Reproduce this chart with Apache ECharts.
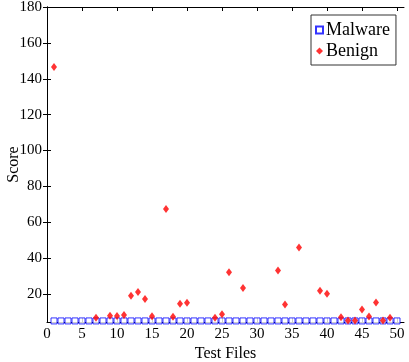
<!DOCTYPE html>
<html>
<head>
<meta charset="utf-8">
<script src="https://cdn.jsdelivr.net/npm/echarts@6/dist/echarts.min.js"></script>
<style>
html,body{margin:0;padding:0;background:#fff;}
#chart{width:409px;height:362px;}
</style>
</head>
<body>
<div id="chart"></div>
<script>
// tick labels
var xTicks = [0, 5, 10, 15, 20, 25, 30, 35, 40, 45, 50];
var yTicks = [20, 40, 60, 80, 100, 120, 140, 160, 180];

// malware: every test file scores ~5
var malwareFiles = [];
var malwareScores = [];
for (var i = 1; i <= 50; i++) { malwareFiles.push(i); malwareScores.push(5); }

// benign scores
var benignFiles  = [1, 7, 9, 10, 11, 12, 13, 14, 15, 17, 18, 19, 20, 24, 25, 26, 28, 33, 34, 36, 39, 40, 42, 43, 44, 45, 46, 47, 48, 49];
var benignScores = [146.5, 6.7, 7.9, 7.8, 8.3, 19.1, 21.1, 17.2, 7.6, 67.4, 7.3, 14.6, 15.2, 6.8, 8.7, 32.1, 23.3, 33.1, 14.2, 45.9, 21.8, 20.2, 7.0, 5.3, 5.3, 11.3, 7.4, 15.3, 5.3, 6.7];

function pairs(xs, ys) {
    var out = [];
    for (var j = 0; j < xs.length; j++) out.push([xs[j], ys[j]]);
    return out;
}

var font = 'Liberation Serif';
var myChart = echarts.init(document.getElementById('chart'));
var axisLine = {show: true, lineStyle: {color: '#000', width: 1}};

var option = {
    animation: false,
    textStyle: {fontFamily: font},
    grid: {left: 47, right: 5, top: 7, bottom: 40, containLabel: false, outerBoundsMode: 'none'},
    legend: {
        orient: 'vertical',
        left: 311, top: 15,
        padding: [6, 6, 5, 4],
        itemGap: 3,
        itemWidth: 7, itemHeight: 7,
        borderColor: '#333', borderWidth: 1,
        textStyle: {fontFamily: font, fontSize: 18, color: '#000', padding: [0, 0, 0, -2]},
        data: ['Malware', 'Benign']
    },
    xAxis: [{
        type: 'value', min: 0, max: 51,
        name: 'Test Files', nameLocation: 'middle', nameGap: 24, nameMoveOverlap: false,
        nameTextStyle: {fontFamily: font, fontSize: 16, color: '#000'},
        axisLine: axisLine,
        axisTick: {inside: true, length: 4, customValues: xTicks, lineStyle: {color: '#000'}},
        axisLabel: {customValues: xTicks, fontFamily: font, fontSize: 15, color: '#000', margin: 5},
        splitLine: {show: false}
    }, {
        type: 'value', min: 0, max: 51, position: 'top',
        axisLine: axisLine,
        axisTick: {inside: true, length: 4, customValues: xTicks, lineStyle: {color: '#000'}},
        axisLabel: {show: false},
        splitLine: {show: false}
    }],
    yAxis: [{
        type: 'value', min: 4.4, max: 180,
        name: 'Score', nameLocation: 'middle', nameGap: 25, nameMoveOverlap: false,
        nameTextStyle: {fontFamily: font, fontSize: 16, color: '#000'},
        axisLine: axisLine,
        axisTick: {inside: true, length: 4, customValues: yTicks, lineStyle: {color: '#000'}},
        axisLabel: {customValues: yTicks, fontFamily: font, fontSize: 15, color: '#000', margin: 5},
        splitLine: {show: false}
    }, {
        type: 'value', min: 4.4, max: 180, position: 'right',
        axisLine: axisLine,
        axisTick: {inside: true, length: 4, customValues: yTicks, lineStyle: {color: '#000'}},
        axisLabel: {show: false},
        splitLine: {show: false}
    }],
    series: [{
        name: 'Malware',
        type: 'scatter',
        symbol: 'rect',
        symbolSize: 6,
        itemStyle: {color: '#fff', borderColor: '#0000ff', borderWidth: 1},
        data: pairs(malwareFiles, malwareScores)
    }, {
        name: 'Benign',
        type: 'scatter',
        symbol: 'diamond',
        symbolSize: [6, 8],
        itemStyle: {color: '#ff0000'},
        data: pairs(benignFiles, benignScores)
    }]
};
myChart.setOption(option);
</script>
</body>
</html>
